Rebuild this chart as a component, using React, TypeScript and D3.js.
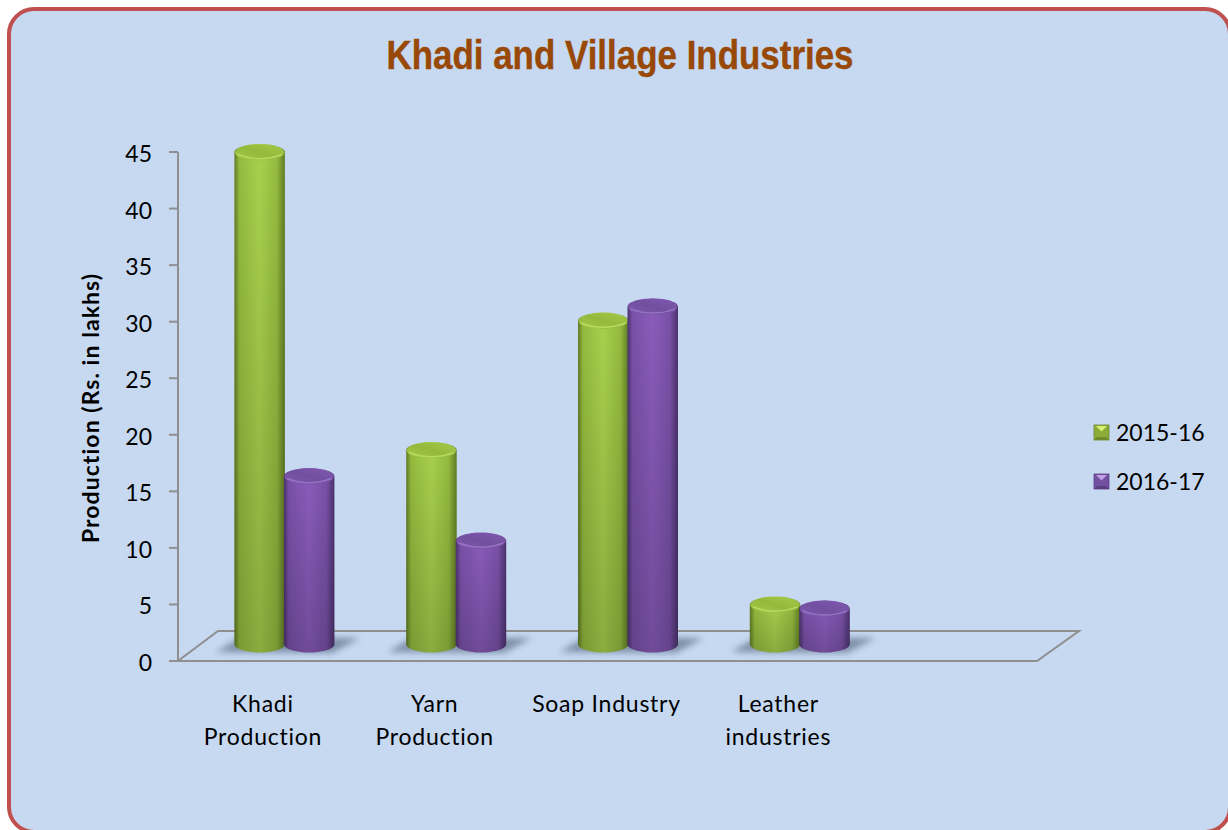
import React from "react";
import * as d3 from "d3";

const categories = ["Khadi Production", "Yarn Production", "Soap Industry", "Leather industries", ""];
const categoryLines = [["Khadi", "Production"], ["Yarn", "Production"], ["Soap Industry"], ["Leather", "industries"], []];
const seriesNames = ["2015-16", "2016-17"];
const values2015 = [43.5, 17.15, 28.6, 3.5];
const values2016 = [14.85, 9.15, 29.85, 3.15];
const yTicks = [0, 5, 10, 15, 20, 25, 30, 35, 40, 45];

const W = 1228, H = 830;
const x0 = 178, x1 = 1037, floorY = 661, backY = 631, depthX = 41;
const y = d3.scaleLinear().domain([0, 45]).range([floorY, 152]);
const xBand = d3.scaleBand<string>().domain(categories).range([x0, x1]);
const xInner = d3.scaleBand<string>().domain(seriesNames).range([-49.5, 49.5]);
const depthLift = 16.5;
const RY = 8.5;

const palette = [
  { id: "g", edge: "#617c24", mid: "#a9d14d", mid2: "#94bb3f", capA: "#94b93c", capB: "#a5cb49", rim: "#bcdf66", bevelTop: "#d8f070", bevelSide: "#8cab38", bevelBottom: "#6e8a2b" },
  { id: "p", edge: "#4b326e", mid: "#8a5cbc", mid2: "#7a51a8", capA: "#72509f", capB: "#8058b0", rim: "#9e78cb", bevelTop: "#c0a0e6", bevelSide: "#7450a2", bevelBottom: "#5a3f80" },
];

function cylinderPath(l: number, r: number, top: number, bot: number) {
  const rx = (r - l) / 2;
  const p = d3.path();
  p.moveTo(l, top);
  p.lineTo(l, bot);
  const n = 24;
  for (let i = 1; i <= n; i++) {
    const a = Math.PI - (Math.PI * i) / n;
    p.lineTo(l + rx + rx * Math.cos(a), bot + RY * Math.sin(a));
  }
  p.lineTo(r, top);
  for (let i = 1; i <= n; i++) {
    const a = (Math.PI * i) / n;
    p.lineTo(l + rx + rx * Math.cos(a), top - RY * Math.sin(a));
  }
  p.closePath();
  return p.toString();
}

const fontBody = "Lato, 'Noto Sans', sans-serif";

function Bevel({ x, yy, s, c }: { x: number; yy: number; s: number; c: (typeof palette)[number] }) {
  const pts = (a: number[][]) => a.map((q) => `${x + q[0]},${yy + q[1]}`).join(" ");
  const m = [s / 2, s / 2 - 1];
  return (
    <g>
      <rect x={x} y={yy} width={s} height={s} fill={c.bevelSide} />
      <polygon points={pts([[0, s], [s, s], [s - 3, s - 3], [3, s - 3]])} fill={c.bevelBottom} />
      <polygon points={pts([[2, 1], [s - 2, 1], m])} fill={c.bevelTop} />
      <rect x={x} y={yy} width={s} height={s} fill="none" stroke={c.bevelBottom} strokeWidth={0.8} />
    </g>
  );
}

export default function App() {
  const series = [values2015, values2016];
  return (
    <svg width={W} height={H} style={{ position: "absolute", left: 0, top: 0, display: "block" }}>
      <defs>
        {palette.map((c) => (
          <React.Fragment key={c.id}>
            <linearGradient id={`body-${c.id}`} x1="0" x2="1" y1="0" y2="0">
              <stop offset="0" stopColor={c.edge} />
              <stop offset="0.1" stopColor={c.mid2} />
              <stop offset="0.5" stopColor={c.mid} />
              <stop offset="0.84" stopColor={c.mid2} />
              <stop offset="1" stopColor={c.edge} />
            </linearGradient>
            <linearGradient id={`cap-${c.id}`} x1="0" x2="1" y1="1" y2="0">
              <stop offset="0" stopColor={c.capB} />
              <stop offset="0.5" stopColor={c.capA} />
              <stop offset="1" stopColor={c.capB} />
            </linearGradient>
          </React.Fragment>
        ))}
        <linearGradient id="shade" x1="0" x2="0" y1="0" y2="1">
          <stop offset="0" stopColor="#000" stopOpacity="0" />
          <stop offset="1" stopColor="#000" stopOpacity="0.18" />
        </linearGradient>
        <filter id="blur" x="-30%" y="-80%" width="160%" height="260%">
          <feGaussianBlur stdDeviation="3" />
        </filter>
        <filter id="soft" x="-10%" y="-100%" width="120%" height="300%">
          <feGaussianBlur stdDeviation="0.6" />
        </filter>
      </defs>

      <rect x={0} y={0} width={W} height={H} fill="#ffffff" />
      <rect x={9} y={9} width={1221} height={823} rx={25} ry={25} fill="#c6d9f1" stroke="#c0504d" strokeWidth={4} />

      <text
        transform="translate(620,69) scale(0.852,1)"
        textAnchor="middle"
        fontFamily="'Liberation Sans', sans-serif"
        fontWeight={700}
        fontSize={41}
        fill="#984807"
        stroke="#984807"
        strokeWidth={0.4}
      >
        Khadi and Village Industries
      </text>

      {/* floor and axis */}
      <g fill="none" stroke="#8f8f8f" strokeWidth={2}>
        <path d={`M${x0},${floorY}L${x1},${floorY}L${x1 + depthX + 1},${backY}L${x0 + depthX - 1},${backY}Z`} />
        <line x1={x0} x2={x0} y1={y(45)} y2={floorY} />
        {yTicks.map((t) => (
          <line key={t} x1={169} x2={x0} y1={y(t)} y2={y(t)} />
        ))}
      </g>
      {yTicks.map((t) => (
        <text key={t} x={152} y={y(t) + 10} textAnchor="end" fontFamily={fontBody} fontSize={23} fill="#000">
          {t}
        </text>
      ))}

      {/* shadows */}
      {categories.slice(0, 4).map((cat) => {
        const cx = xBand(cat)! + xBand.bandwidth() / 2 + depthX / 2;
        const l = cx - 49.5;
        const r = cx + 49.5;
        return (
          <polygon
            key={cat}
            points={`${l - 19},652 ${l + 5},638 ${r + 26},638 ${r - 2},653`}
            fill="#66778f"
            opacity={0.75}
            filter="url(#blur)"
          />
        );
      })}

      {/* bars */}
      {categories.slice(0, 4).map((cat, i) => {
        const cx = xBand(cat)! + xBand.bandwidth() / 2 + depthX / 2;
        return seriesNames.map((s, j) => {
          const c = palette[j];
          const v = series[j][i];
          const l = cx + xInner(s)! - 0.5;
          const r = l + xInner.bandwidth() + 1;
          const top = y(v) - depthLift;
          const bot = 644;
          const rx = (r - l) / 2;
          return (
            <g key={s}>
              <path d={cylinderPath(l, r, top, bot)} fill={`url(#body-${c.id})`} />
              <path d={cylinderPath(l, r, top, bot)} fill="url(#shade)" />
              <ellipse cx={l + rx} cy={top} rx={rx - 0.5} ry={RY - 0.5} fill={`url(#cap-${c.id})`} />
              <path
                d={`M${l + 3},${top + 2}Q${l + rx},${top + RY + 2} ${r - 3},${top + 2}`}
                fill="none"
                stroke={c.rim}
                strokeWidth={1.5}
                opacity={0.85}
                filter="url(#soft)"
              />
            </g>
          );
        });
      })}

      {/* category labels */}
      {categories.map((cat, i) => (
        <text key={i} textAnchor="middle" fontFamily={fontBody} fontSize={23} letterSpacing={0.75} fill="#000">
          {categoryLines[i].map((ln, k) => (
            <tspan key={k} x={xBand(cat)! + xBand.bandwidth() / 2 - 1} y={712 + k * 33}>
              {ln}
            </tspan>
          ))}
        </text>
      ))}

      <text
        transform="translate(99,408) rotate(-90)"
        textAnchor="middle"
        fontFamily={fontBody}
        fontWeight={700}
        fontSize={23}
        letterSpacing={1.05}
        fill="#000"
      >
        Production (Rs. in lakhs)
      </text>

      {/* legend */}
      {seriesNames.map((s, j) => {
        const yy = 425 + j * 49;
        return (
          <g key={s}>
            <Bevel x={1094} yy={yy} s={15} c={palette[j]} />
            <text x={1116} y={yy + 16} fontFamily={fontBody} fontSize={23} fill="#000">
              {s}
            </text>
          </g>
        );
      })}
    </svg>
  );
}
